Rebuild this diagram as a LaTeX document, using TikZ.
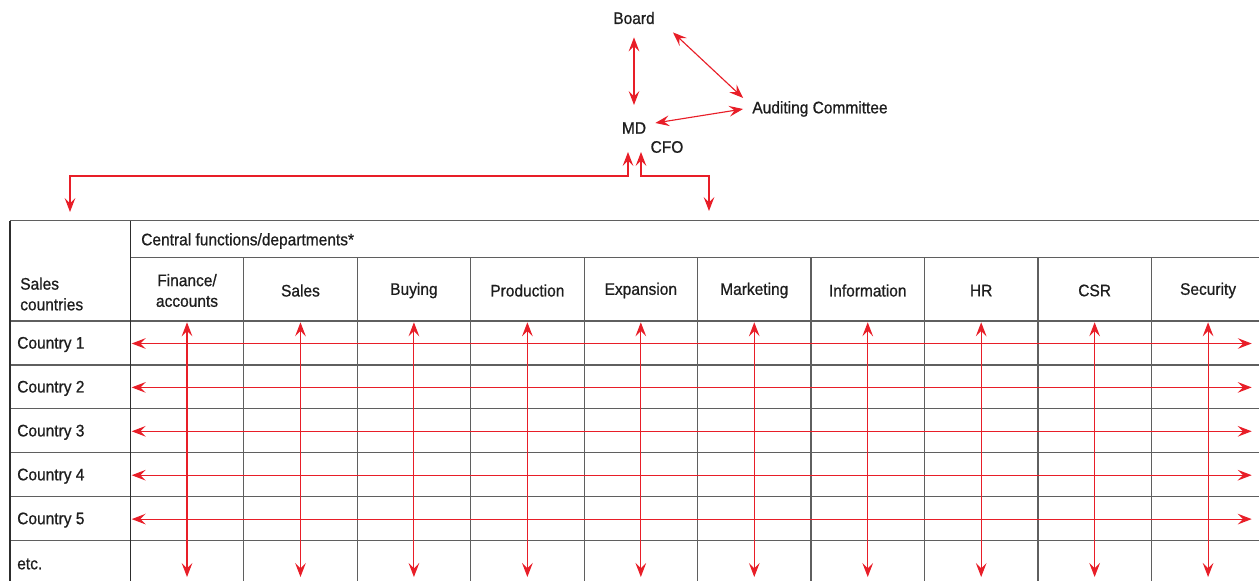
\documentclass[tikz,border=0pt]{standalone}
\usepackage{fontspec}
\setmainfont{Liberation Sans}[FakeStretch=0.93,FakeBold=0.8]
\usetikzlibrary{arrows.meta,calc}
\definecolor{ared}{RGB}{232,30,40}
\definecolor{gline}{RGB}{95,95,95}
\definecolor{dline}{RGB}{45,45,45}
\definecolor{txt}{RGB}{30,30,30}
\begin{document}
\begin{tikzpicture}[x=0.75pt,y=-0.75pt,
  font=\fontsize{12.5}{15.5}\selectfont,
  every node/.style={text=txt,inner sep=0pt},
  tip/.tip={Stealth[length=10.5pt,width=8pt,inset=4pt]},
  arr/.style={draw=ared,line width=0.85pt,tip-tip},
  tline/.style={draw=gline,line width=0.9pt},
  dl/.style={draw=dline,line width=0.9pt}]
\useasboundingbox (0,0) rectangle (1259,581);

% ---- top organisation ----
\node (board) at (634,18) {Board};
\node (md) at (634,128) {MD};
\node (cfo) at (667,147) {CFO};
\node (ac) at (820,109) {Auditing Committee};

\draw[arr,shorten <=9.75pt,shorten >=12.75pt] (board) -- (md);
\draw[arr] ($(board.south east)+(18,8)$) -- ($(ac.north west)+(-9,-3)$);
\draw[arr] ($(md.east)+(9,-5)$) -- ($(ac.west)+(-9,0)$);

\coordinate (lt) at (70,212);
\coordinate (rt) at (709,211);
\draw[arr] ($(md.south)+(-6,18)$) -- ++(0,24) -| (lt);
\draw[arr] ($(md.south)+(7,18)$) -- ++(0,24) -| (rt);

% ---- table grid ----
\draw[tline] (10,220.5) -- (1259,220.5);
\draw[tline] (130.3,257.5) -- (1259,257.5);
\draw[tline] (10,321) -- (1259,321);
\foreach \k in {1,...,5} {
  \draw[tline] (10,{321+43.9*\k}) -- (1259,{321+43.9*\k});
}
\draw[dl] (10,220.5) -- (10,581);
\draw[dl] (130.3,220.5) -- (130.3,581);
\foreach \k in {1,...,9} {
  \draw[tline] ({130.3+113.45*\k},257.5) -- ({130.3+113.45*\k},581);
}

% ---- header texts ----
\node[anchor=west] (cf) at (141,241) {Central functions/departments*};
\node[anchor=west,align=left] (sc) at (20,294) {Sales\\countries};

\foreach \name [count=\i] in {{Finance/\\accounts},Sales,Buying,Production,Expansion,Marketing,Information,HR,CSR,Security} {
  \node[align=center] (d\i) at ({130.3+113.45*(\i-0.5)},290.5) {\name};
}

\foreach \name [count=\k] in {Country 1,Country 2,Country 3,Country 4,Country 5,etc.} {
  \node[anchor=west] (c\k) at (17,{344.5+43.9*(\k-1)}) {\name};
}

% ---- red arrows in table ----
\foreach \k in {1,...,5} {
  \coordinate (hl\k) at (131.7,{343.5+43.9*(\k-1)});
  \coordinate (hr\k) at (1251.7,{343.5+43.9*(\k-1)});
  \draw[arr] (hl\k) -- (hr\k);
}
\foreach \i in {1,...,10} {
  \coordinate (vt\i) at ({130.3+113.45*(\i-0.5)},322.3);
  \coordinate (vb\i) at ({130.3+113.45*(\i-0.5)},577);
  \draw[arr] (vt\i) -- (vb\i);
}
\end{tikzpicture}
\end{document}
